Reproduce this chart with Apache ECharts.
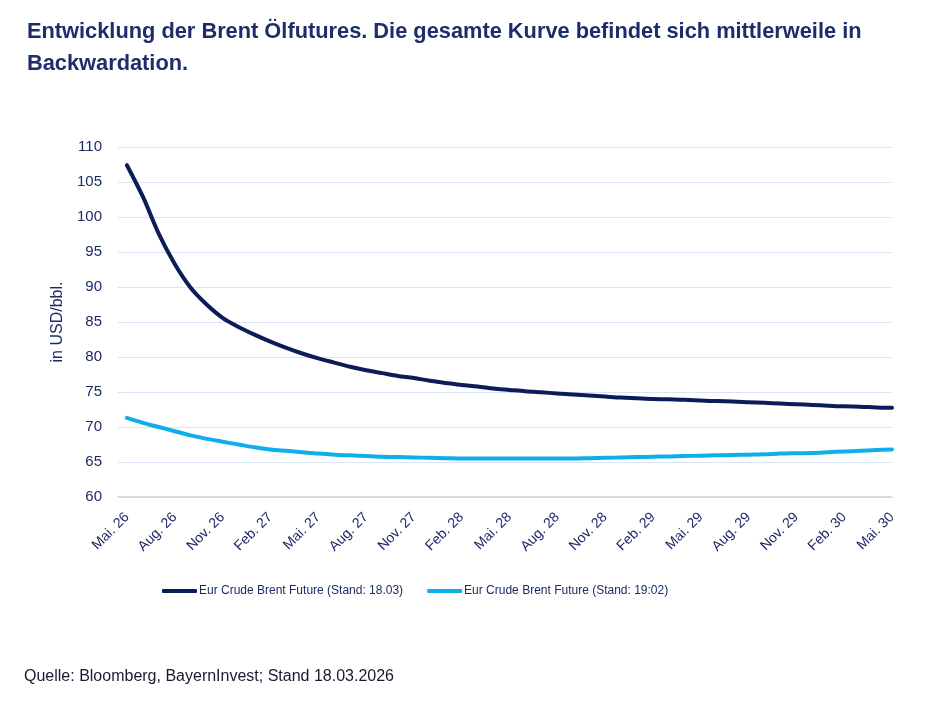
<!DOCTYPE html>
<html>
<head>
<meta charset="utf-8">
<script src="https://cdn.jsdelivr.net/npm/echarts@6/dist/echarts.min.js"></script>
<style>
html,body{margin:0;padding:0;background:#fff;}
#c{width:930px;height:708px;}
</style>
</head>
<body>
<div id="c"></div>
<script>
var months = ["Mai. 26","Jun. 26","Jul. 26","Aug. 26","Sep. 26","Okt. 26","Nov. 26","Dez. 26","Jan. 27","Feb. 27","Mär. 27","Apr. 27",
"Mai. 27","Jun. 27","Jul. 27","Aug. 27","Sep. 27","Okt. 27","Nov. 27","Dez. 27","Jan. 28","Feb. 28","Mär. 28","Apr. 28",
"Mai. 28","Jun. 28","Jul. 28","Aug. 28","Sep. 28","Okt. 28","Nov. 28","Dez. 28","Jan. 29","Feb. 29","Mär. 29","Apr. 29",
"Mai. 29","Jun. 29","Jul. 29","Aug. 29","Sep. 29","Okt. 29","Nov. 29","Dez. 29","Jan. 30","Feb. 30","Mär. 30","Apr. 30","Mai. 30"];
var labelIdx = [0,3,6,9,12,15,18,21,24,27,30,33,36,39,42,45,48];
var yTicks = [60,65,70,75,80,85,90,95,100,105,110];
var brent1803 = [107.4,102.9,97.6,93.3,89.9,87.5,85.6,84.3,83.2,82.2,81.3,80.5,
79.8,79.2,78.6,78.1,77.7,77.3,77.0,76.6,76.3,76.0,75.8,75.5,
75.3,75.1,74.95,74.8,74.65,74.5,74.35,74.2,74.1,74.0,73.95,73.9,
73.8,73.7,73.65,73.55,73.45,73.35,73.25,73.15,73.05,72.95,72.9,72.8,72.75];
var brent1902 = [71.3,70.6,70.0,69.4,68.8,68.3,67.9,67.5,67.1,66.8,66.6,66.4,
66.2,66.05,65.95,65.85,65.75,65.7,65.65,65.6,65.55,65.5,65.5,65.5,
65.5,65.5,65.5,65.5,65.5,65.55,65.6,65.65,65.7,65.75,65.8,65.85,
65.9,65.95,66.0,66.05,66.1,66.2,66.25,66.3,66.4,66.5,66.6,66.7,66.8];
var seriesNames = ["Eur Crude Brent Future (Stand: 18.03)","Eur Crude Brent Future (Stand: 19:02)"];

var navy = '#0b1c58';
var cyan = '#0fadea';
var txt = '#1c2b66';
var font = '"Liberation Sans", sans-serif';

function pairs(arr){ return arr.map(function(v,i){ return [i,v]; }); }

var chart = echarts.init(document.getElementById('c'), null, {renderer:'canvas'});
chart.setOption({
  backgroundColor:'#fff',
  animation:false,
  title:{
    text:'Entwicklung der Brent Ölfutures. Die gesamte Kurve befindet sich mittlerweile in\nBackwardation.',
    left:22, top:11,
    textStyle:{color:'#1d2d6b', fontSize:21.8, fontWeight:'bold', fontFamily:font, lineHeight:32}
  },
  graphic:[{
    type:'text', left:24, top:669,
    style:{text:'Quelle: Bloomberg, BayernInvest; Stand 18.03.2026', fill:'#1a1a2e', font:'16px "Liberation Sans", sans-serif'}
  }],
  legend:{
    left:157, top:580,
    itemWidth:35, itemHeight:4, itemGap:24,
    icon:'roundRect',
    data:seriesNames,
    textStyle:{color:txt, fontSize:12, fontFamily:font, padding:[0,0,0,-3]}
  },
  grid:{left:118, right:38, top:147, bottom:211, containLabel:false},
  xAxis:{
    type:'value', min:-0.56, max:48,
    splitLine:{show:false},
    axisLine:{show:true, onZero:false, lineStyle:{color:'#d4d4d4', width:1.5}},
    axisTick:{show:false},
    axisLabel:{
      customValues:labelIdx,
      rotate:45, margin:18,
      color:txt, fontSize:14, fontFamily:font,
      formatter:function(v){ return months[Math.round(v)]; }
    }
  },
  yAxis:{
    type:'value', min:60, max:110, interval:5,
    name:'in USD/bbl.', nameLocation:'middle', nameGap:46, nameRotate:90,
    nameTextStyle:{color:txt, fontSize:16, fontFamily:font},
    axisLine:{show:false}, axisTick:{show:false},
    axisLabel:{color:txt, fontSize:15, fontFamily:font, margin:16,
      formatter:function(v){ return yTicks.indexOf(v)>=0 ? String(v) : ''; }},
    splitLine:{lineStyle:{color:'#dae4f6', width:1.2}}
  },
  series:[
    {name:seriesNames[0], type:'line', data:pairs(brent1803), showSymbol:false, smooth:0.3,
     lineStyle:{color:navy, width:4, cap:'round'}, itemStyle:{color:navy}},
    {name:seriesNames[1], type:'line', data:pairs(brent1902), showSymbol:false, smooth:0.3,
     lineStyle:{color:cyan, width:4, cap:'round'}, itemStyle:{color:cyan}}
  ]
});
</script>
</body>
</html>
